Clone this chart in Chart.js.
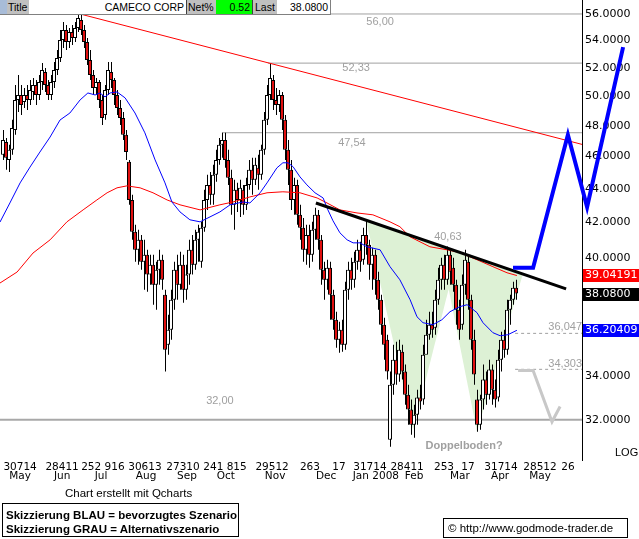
<!DOCTYPE html>
<html>
<head>
<meta charset="utf-8">
<script src="https://cdn.jsdelivr.net/npm/chart.js@4.4.1/dist/chart.umd.min.js"></script>
<style>
  body { margin: 0; background: #fff; }
  #wrap { position: relative; width: 639px; height: 539px; overflow: hidden; font-family: "Liberation Sans", Arial, sans-serif; }
  #wrap canvas { position: absolute; left: 0; top: 0; }
  .hb { position: absolute; top: 0; height: 14px; line-height: 14px; font-size: 10.5px; white-space: nowrap; box-sizing: border-box; }
  .gray { background: #c0c0c0; }
  .txt { position: absolute; white-space: nowrap; }
</style>
</head>
<body>
<div id="wrap">
  <canvas id="chart" width="639" height="539"></canvas>

  <!-- header strip -->
  <div class="hb" style="left:0;width:7px;background:#a8bcd8"></div>
  <div class="hb gray" style="left:7px;width:22px;padding-left:1px">Title</div>
  <div class="hb" style="left:29px;width:157px;text-align:right;padding-right:2px;background:#fff">CAMECO CORP</div>
  <div class="hb gray" style="left:186px;width:30px;border-left:1px solid #404040;padding-left:1px">Net%</div>
  <div class="hb" style="left:216px;width:36px;background:#00ff00;text-align:right;padding-right:2px">0.52</div>
  <div class="hb gray" style="left:252px;width:25px;border-left:1px solid #404040;padding-left:2px">Last</div>
  <div class="hb" style="left:277px;width:54px;text-align:right;padding-right:2px;background:#fff;border-right:1px solid #808080">38.0800</div>
  <div style="position:absolute;left:0;top:14px;width:331px;height:1px;background:#808080"></div>

  <div class="txt" style="left:615px;top:446px;font-size:11px">LOG</div>

  <!-- footer -->
  <div class="txt" style="left:65px;top:487px;font-size:11.5px">Chart erstellt mit Qcharts</div>
  <div class="txt" style="left:2px;top:503px;width:237px;height:34px;box-sizing:border-box;border:1px solid #000;padding:4px 0 0 3px;font-size:11.5px;font-weight:bold;line-height:14px">Skizzierung BLAU = bevorzugtes Szenario<br>Skizzierung GRAU = Alternativszenario</div>
  <div class="txt" style="left:443px;top:518px;width:185px;height:20px;box-sizing:border-box;border:1px solid #000;padding-left:4px;font-size:11.5px;line-height:18px">© http://www.godmode-trader.de</div>
</div>

<script>
// daily candles, one per trading day (index = day)
const opens = [
  46.11, 46.94, 45.79, 46.43, 47.72, 49.74, 50.08, 49.60, 50.08, 49.74,
  50.29, 50.78, 50.08, 50.99, 51.70, 50.78, 50.08, 50.99, 51.84, 52.70,
  54.03, 54.78, 53.88, 54.63, 54.18, 54.93, 55.54, 54.78, 53.88, 52.56,
  51.48, 50.57, 50.99, 49.74, 48.72, 50.43, 51.70, 51.13, 50.08, 49.19,
  48.52, 47.40, 45.67, 43.33, 41.47, 40.45, 41.01, 39.79, 40.18, 39.09,
  39.63, 38.55, 39.35, 39.90, 38.02, 35.48, 36.23, 37.76, 39.35, 38.55,
  39.63, 38.28, 39.09, 40.45, 39.63, 41.01, 39.79, 41.70, 43.33, 44.24,
  43.64, 44.86, 45.79, 46.75, 47.07, 45.79, 44.67, 43.04, 43.94, 43.33,
  43.94, 43.04, 44.24, 45.17, 44.55, 45.29, 44.86, 46.43, 48.39, 50.08,
  51.13, 49.74, 49.40, 50.08, 48.39, 46.43, 45.17, 43.33, 44.24, 42.45,
  41.70, 40.45, 41.29, 40.18, 41.58, 42.45, 41.01, 39.35, 38.81, 39.46,
  38.02, 36.73, 35.73, 36.23, 35.48, 38.28, 39.35, 38.81, 39.79, 40.45,
  39.90, 41.29, 40.73, 39.63, 40.18, 38.81, 37.76, 36.48, 35.73, 31.13,
  33.58, 34.76, 34.06, 35.14, 34.20, 33.12, 32.45, 31.78, 32.22, 32.99,
  32.90, 35.00, 35.98, 36.48, 36.33, 37.76, 38.81, 39.63, 38.81, 40.18,
  39.46, 38.55, 37.24, 36.48, 38.55, 39.79, 37.76, 35.73, 32.90, 31.78,
  32.90, 33.82, 33.12, 34.29, 33.35, 32.99, 34.76, 35.73, 35.24, 37.24,
  37.76, 38.39
];
const highs = [
  47.72, 47.20, 46.75, 48.39, 50.78, 51.48, 50.78, 50.57, 50.78, 51.13,
  51.27, 51.13, 51.48, 52.34, 51.98, 51.13, 51.48, 52.41, 53.29, 54.78,
  55.39, 55.16, 54.93, 55.16, 55.39, 56.00, 56.00, 55.16, 54.18, 53.29,
  51.84, 51.27, 51.13, 50.08, 50.78, 52.41, 52.41, 51.27, 50.43, 49.74,
  48.92, 47.72, 45.79, 43.64, 41.87, 41.58, 41.29, 41.01, 40.45, 40.18,
  40.18, 39.79, 40.45, 40.18, 38.28, 36.99, 38.28, 39.79, 40.18, 40.34,
  40.18, 39.63, 41.01, 41.29, 41.58, 41.87, 42.04, 43.94, 44.86, 45.04,
  45.48, 46.43, 47.20, 47.53, 47.53, 46.43, 45.17, 44.55, 44.37, 44.55,
  44.24, 44.67, 45.79, 45.92, 45.92, 46.11, 46.75, 48.92, 50.78, 52.33,
  51.48, 50.57, 50.43, 50.29, 48.72, 47.07, 45.79, 44.67, 44.55, 43.04,
  42.27, 41.87, 41.87, 42.04, 42.86, 42.74, 41.29, 39.79, 39.90, 39.79,
  38.28, 37.14, 36.63, 36.73, 38.71, 39.79, 40.01, 40.34, 41.01, 40.90,
  41.70, 42.16, 41.01, 40.56, 40.45, 39.25, 38.02, 36.83, 35.98, 34.20,
  35.48, 35.63, 35.73, 35.48, 34.53, 33.58, 32.90, 32.67, 33.35, 33.58,
  35.48, 36.73, 37.14, 37.14, 38.28, 39.46, 40.01, 40.18, 40.63, 40.45,
  40.01, 38.81, 37.76, 39.09, 40.45, 40.18, 38.02, 36.23, 33.35, 33.12,
  34.53, 34.20, 34.76, 34.53, 33.82, 35.24, 36.13, 36.23, 37.76, 38.02,
  38.71, 38.81
];
const lows = [
  45.79, 45.17, 45.04, 46.11, 47.40, 48.92, 48.72, 49.19, 49.06, 49.40,
  49.74, 49.40, 49.74, 50.43, 50.29, 49.74, 49.74, 50.57, 51.48, 52.41,
  53.44, 53.29, 53.44, 53.66, 53.88, 54.63, 54.40, 53.44, 52.20, 51.13,
  50.08, 50.08, 49.19, 48.05, 48.39, 50.08, 50.57, 49.40, 48.72, 48.05,
  47.07, 45.79, 43.04, 41.01, 39.79, 39.63, 39.35, 38.28, 38.18, 38.55,
  37.50, 37.24, 38.55, 38.28, 34.20, 35.00, 35.73, 37.24, 37.76, 38.28,
  37.60, 37.76, 38.55, 39.09, 39.35, 39.79, 39.46, 41.47, 42.74, 43.04,
  43.04, 44.43, 45.48, 45.92, 45.29, 44.24, 42.45, 41.58, 42.62, 42.33,
  42.45, 42.74, 43.94, 43.64, 44.24, 43.94, 44.55, 46.11, 48.05, 49.74,
  49.06, 48.72, 48.92, 47.72, 45.79, 44.24, 42.74, 42.45, 41.87, 41.01,
  39.79, 39.63, 39.46, 39.79, 41.01, 40.45, 38.55, 37.76, 38.28, 36.73,
  36.23, 35.34, 35.10, 35.14, 35.24, 37.76, 38.28, 38.39, 39.35, 39.25,
  39.63, 40.18, 38.81, 38.28, 38.02, 37.24, 35.98, 34.76, 33.82, 30.83,
  33.12, 33.58, 33.72, 33.82, 32.67, 31.78, 31.34, 31.21, 31.78, 32.45,
  32.67, 35.48, 35.73, 35.83, 35.98, 37.50, 38.28, 38.28, 38.55, 38.55,
  38.18, 36.48, 35.73, 36.23, 38.02, 37.24, 35.24, 33.58, 31.47, 31.56,
  32.45, 32.67, 32.90, 32.67, 32.54, 32.81, 34.20, 34.86, 35.00, 36.48,
  37.50, 37.76
];
const closes = [
  47.07, 45.92, 46.43, 47.85, 49.74, 50.08, 49.40, 50.08, 49.74, 50.43,
  50.78, 50.08, 50.99, 51.84, 50.78, 50.08, 50.99, 51.84, 52.70, 54.03,
  54.78, 53.88, 54.63, 54.18, 54.93, 55.69, 54.78, 53.88, 52.56, 51.48,
  50.57, 50.99, 49.74, 48.52, 50.43, 51.84, 51.13, 50.08, 49.19, 48.52,
  47.40, 46.30, 43.33, 41.47, 40.45, 41.01, 39.79, 40.18, 39.09, 39.63,
  38.55, 39.35, 39.90, 38.81, 35.24, 36.23, 37.76, 39.35, 38.55, 39.63,
  38.28, 39.09, 40.45, 39.63, 41.01, 41.47, 41.70, 43.33, 44.24, 43.64,
  44.86, 45.79, 46.75, 47.07, 45.79, 44.67, 43.04, 43.94, 43.33, 44.06,
  43.04, 44.24, 45.17, 44.55, 45.48, 44.86, 46.43, 48.39, 50.08, 51.27,
  49.74, 49.40, 50.08, 48.39, 46.43, 45.17, 43.33, 44.24, 42.45, 41.70,
  40.45, 41.29, 40.18, 41.58, 42.45, 41.01, 39.35, 38.81, 39.46, 38.02,
  36.73, 35.73, 36.23, 35.48, 38.28, 39.35, 38.81, 39.79, 40.45, 39.79,
  41.29, 40.73, 39.63, 40.18, 38.81, 37.76, 36.48, 35.48, 34.20, 33.58,
  34.76, 34.06, 35.24, 34.20, 33.12, 32.45, 31.78, 32.22, 32.99, 32.81,
  35.00, 35.98, 36.48, 36.23, 37.76, 38.81, 39.63, 38.81, 40.18, 39.25,
  38.55, 37.24, 36.23, 38.55, 39.90, 37.76, 35.73, 34.06, 31.78, 32.90,
  33.82, 33.12, 34.29, 33.35, 32.90, 34.76, 35.73, 35.24, 37.24, 37.76,
  38.39, 38.08
];

// moving averages: [day, price]
const blueMA = [
  [-1, 42.03], [2.3, 43.15], [5.7, 44.36], [9, 45.34], [12.3, 46.29], [15.7, 47.26],
  [19, 48.38], [22.3, 48.85], [25.7, 49.74], [28.3, 50.22], [30.7, 50.08], [32.3, 50.22],
  [34, 49.95], [35.7, 50.22], [38, 50.29], [40.7, 49.88], [44, 48.85], [47.3, 47.53],
  [50.7, 45.79], [54, 44.36], [56.3, 43.21], [59, 42.62], [62.3, 42.16], [65.7, 42.04],
  [69, 42.33], [72.3, 42.62], [75.7, 43.04], [80, 43.21], [82.3, 43.15], [85.7, 43.76],
  [88, 44.36], [91.3, 45.29], [93.3, 45.61], [95, 45.61], [96.7, 45.36], [99, 44.73],
  [101.3, 44.24], [104, 43.76], [106.7, 43.45], [108.3, 42.74], [110, 42.10], [112.3, 41.41],
  [114.7, 41.01], [116.7, 40.84], [119, 40.84], [121.3, 40.62], [125.7, 40.45], [129, 39.52],
  [132.3, 38.81], [135.7, 37.76], [138, 36.88], [140, 36.58], [143.3, 36.48], [146.3, 36.73],
  [149, 37.14], [152.3, 37.40], [154.7, 37.50], [158, 37.09], [160, 36.58], [163.3, 36.08],
  [165.7, 35.93], [168.3, 35.98], [171.3, 36.20]
];
const redMA = [
  [-1, 38.64], [4.7, 39.23], [10, 40.27], [15.7, 41.01], [21.3, 42.04], [26.7, 42.74],
  [31.3, 43.33], [34.7, 43.76], [38, 44.06], [41.3, 44.18], [45.7, 44.06], [50, 43.76],
  [54.7, 43.33], [59, 43.04], [65.7, 42.74], [72.3, 43.04], [76.7, 43.21], [82.3, 43.51],
  [88, 43.76], [93.3, 43.82], [99, 43.76], [104.7, 43.45], [108, 43.15], [112.3, 42.74],
  [118, 42.56], [123.3, 42.45], [129, 42.04], [132.3, 41.76], [135.7, 41.18], [142.3, 40.62],
  [148, 40.45], [152.3, 40.29], [158, 39.90], [163.3, 39.52], [168, 39.19], [171.3, 39.04]
];

// drawn analysis: trend lines and scenario sketches [day, price]
const resistanceLine = [[25.7, 56.00], [193, 46.78]];
const neckLine = [[104.3, 43.15], [187.7, 38.33]];
const blueScenario = [[170, 39.46], [176.7, 39.46], [188.3, 47.40], [194.7, 42.91], [206.7, 53.50]];
const grayScenario = [[171.7, 34.25], [176.7, 34.25], [183, 31.91], [185.7, 32.59]];
const bottomLeft = [[121, 42.16], [136.7, 31.56], [151.7, 40.34]];
const bottomRight = [[145.7, 40.67], [158, 31.47], [173.3, 39.14]];

// horizontal levels: price, first day
const levelPrices = [56.00, 52.33, 47.54, 32.00];
const levelStart = [25.7, 88.3, 73, -1];
const targetPrices = [36.047, 34.303];
const targetStart = 170.7;

// axis ticks
const yTicks = [32, 34, 36, 38, 40, 42, 44, 46, 48, 50, 52, 54, 56];
const dayTicks = [5.7, 19.7, 33.3, 47.3, 60, 74, 89.7, 102.3, 112, 122.3, 134.7, 147, 155, 166, 179, 188.3];
const dayTickLabels = ['30714', '28411', '252 916', '30613', '27310', '241 815', '29512', '263', '17', '31714', '28411', '253', '17', '31714', '28512', '26'];
const monthTicks = [5.7, 19.7, 32.7, 47.7, 61.3, 74.3, 90.7, 107.7, 124.3, 137, 152.3, 165.7, 179];
const monthLabels = ['May', 'Jun', 'Jul', 'Aug', 'Sep', 'Oct', 'Nov', 'Dec', 'Jan 2008', 'Feb', 'Mar', 'Apr', 'May'];

// current values shown on the price axis
const lastRed = 39.04191, lastPrice = 38.08, lastBlue = 36.20409;

const axisFont = '"DejaVu Sans", sans-serif';
const arial = '"Liberation Sans", Arial, sans-serif';
const gray = '#a0a0a0';

const toXY = arr => arr.map(([d, p]) => ({ x: d, y: p }));

function lineSet(points, color, width, order, extra) {
  return Object.assign({
    type: 'line', data: toXY(points), borderColor: color, borderWidth: width,
    pointRadius: 0, fill: false, tension: 0, order: order, xAxisID: 'x', yAxisID: 'y'
  }, extra || {});
}

const datasets = [];
levelPrices.forEach((p, i) => {
  datasets.push(lineSet([[levelStart[i], p], [193, p]], p === 32 ? '#a8a8a8' : gray, p === 32 ? 2 : 1, 20));
});
targetPrices.forEach(p => {
  datasets.push(lineSet([[targetStart, p], [193, p]], gray, 1, 20, { borderDash: [3, 3] }));
});
datasets.push({
  type: 'bar', order: 12, xAxisID: 'x', yAxisID: 'y',
  data: lows.map((l, i) => ({ x: i + 1 / 6, y: [l, highs[i]] })),
  backgroundColor: '#000', borderWidth: 0, barThickness: 1, grouped: false, inflateAmount: 0
});
datasets.push({
  type: 'bar', order: 11, xAxisID: 'x', yAxisID: 'y',
  data: opens.map((o, i) => ({ x: i, y: [o, closes[i]] })),
  backgroundColor: opens.map((o, i) => closes[i] < o ? '#e01010' : '#ffffff'),
  borderColor: '#000', borderWidth: 1, borderSkipped: false,
  barThickness: 4, grouped: false, inflateAmount: 0
});
datasets.push(lineSet(redMA, '#ff0000', 1, 9));
datasets.push(lineSet(blueMA, '#0000ff', 1, 8));
datasets.push(lineSet(resistanceLine, '#ff0000', 1, 7));
datasets.push(lineSet(neckLine, '#000000', 3, 6));
datasets.push(lineSet(grayScenario, '#c8c8c8', 3, 5));
// listed from the far end so every point is kept when it runs past the axis
datasets.push(lineSet(blueScenario.slice().reverse(), '#0000ff', 4, 4, { clip: false, borderJoinStyle: 'miter' }));

const notes = [
  { d: 125.7, p: 55.39, t: '56,00' },
  { d: 117.7, p: 51.98, t: '52,33' },
  { d: 116.3, p: 46.88, t: '47,54' },
  { d: 148.3, p: 41.18, t: '40,63' },
  { d: 72.3, p: 32.84, t: '32,00' },
  { d: 193, p: 36.37, t: '36,047', align: 'right' },
  { d: 193, p: 34.56, t: '34,303', align: 'right' },
  { d: 153.7, p: 30.86, t: 'Doppelboden?', bold: true }
];

const overlay = {
  id: 'overlay',
  beforeDatasetsDraw(chart) {
    const { ctx, scales: { x, y } } = chart;
    ctx.save();
    ctx.fillStyle = '#ddf1d5';
    [bottomLeft, bottomRight].forEach(tri => {
      ctx.beginPath();
      tri.forEach(([d, p], k) => {
        const px = x.getPixelForValue(d), py = y.getPixelForValue(p);
        if (k === 0) ctx.moveTo(px, py); else ctx.lineTo(px, py);
      });
      ctx.closePath();
      ctx.fill();
    });
    ctx.restore();
  },
  afterDatasetsDraw(chart) {
    const { ctx, scales: { x, y } } = chart;
    ctx.save();
    ctx.fillStyle = gray;
    ctx.textBaseline = 'middle';
    notes.forEach(n => {
      ctx.font = (n.bold ? 'bold ' : '') + '11px ' + arial;
      ctx.textAlign = n.align || 'center';
      ctx.fillText(n.t, x.getPixelForValue(n.d), y.getPixelForValue(n.p));
    });
    ctx.restore();
  },
  afterDraw(chart) {
    const { ctx, chartArea, scales: { y } } = chart;
    ctx.save();
    ctx.font = '11px ' + axisFont;
    ctx.textBaseline = 'middle';
    ctx.textAlign = 'left';
    [[lastRed, '#ff0000', lastRed.toFixed(5)], [lastPrice, '#000000', lastPrice.toFixed(4)], [lastBlue, '#0000ff', lastBlue.toFixed(5)]]
      .forEach(([v, c, label]) => {
        const py = Math.round(y.getPixelForValue(v));
        ctx.fillStyle = c;
        ctx.fillRect(chartArea.right + 1, py - 6, 639 - chartArea.right - 1, 13);
        ctx.fillStyle = '#fff';
        ctx.fillText(label, chartArea.right + 3, py + 0.5);
      });
    ctx.restore();
  }
};

const hiddenGrid = { display: false, drawTicks: false };

new Chart(document.getElementById('chart'), {
  type: 'bar',
  data: { datasets: datasets },
  options: {
    responsive: false,
    animation: false,
    events: [],
    layout: { padding: { left: 0, right: 0, top: 0, bottom: 56 } },
    plugins: { legend: { display: false }, tooltip: { enabled: false } },
    scales: {
      x: {
        type: 'linear', position: 'bottom', min: -1, max: 193, offset: false, bounds: 'data',
        grid: hiddenGrid, border: { display: false },
        ticks: {
          autoSkip: false, maxRotation: 0, padding: 1, color: '#000',
          font: { family: axisFont, size: 10.5 },
          callback: (v, i) => dayTickLabels[i]
        },
        afterBuildTicks: s => { s.ticks = dayTicks.map(v => ({ value: v })); },
        afterFit: s => { s.height = 10; s.paddingLeft = 0; s.paddingRight = 0; }
      },
      x2: {
        type: 'linear', position: 'bottom', min: -1, max: 193, offset: false, bounds: 'data',
        grid: hiddenGrid, border: { display: false },
        ticks: {
          autoSkip: false, maxRotation: 0, padding: 0, color: '#000',
          font: { family: axisFont, size: 10.5 },
          callback: (v, i) => monthLabels[i]
        },
        afterBuildTicks: s => { s.ticks = monthTicks.map(v => ({ value: v })); },
        afterFit: s => { s.height = 13; s.paddingLeft = 0; s.paddingRight = 0; }
      },
      y: {
        type: 'logarithmic', position: 'right', min: 30.27, max: 57.09, bounds: 'data',
        grid: hiddenGrid, border: { display: true, color: '#000', width: 1 },
        ticks: {
          padding: 3, color: '#000', font: { family: axisFont, size: 11 },
          callback: v => Number(v).toFixed(4)
        },
        afterBuildTicks: s => { s.ticks = yTicks.map(v => ({ value: v })); },
        afterFit: s => { s.width = 57; s.paddingTop = 0; s.paddingBottom = 0; }
      }
    }
  },
  plugins: [overlay]
});
</script>
</body>
</html>
